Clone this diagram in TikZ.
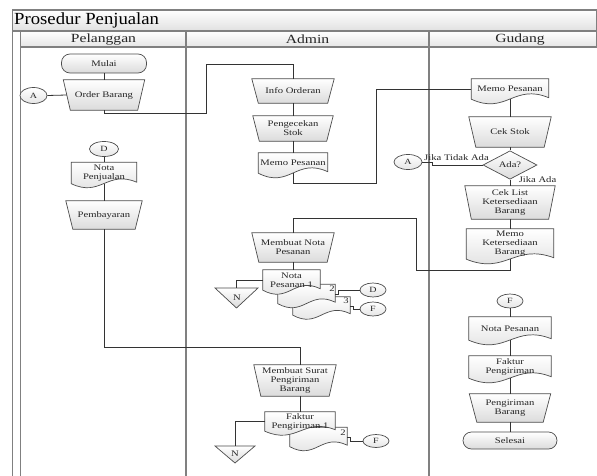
\documentclass[tikz,border=0pt]{standalone}
\usepackage{fontspec}
\setmainfont{Liberation Serif}
\newfontfamily\widefont{Liberation Serif}[FakeStretch=1.25]
\newfontfamily\titlefont{Liberation Serif}[FakeStretch=1.1]
\usetikzlibrary{shapes.geometric,calc}
\pgfdeclarelayer{back}
\pgfdeclarelayer{bg}
\pgfsetlayers{back,bg,main}
\tikzset{
  txt/.style={inner sep=0pt, align=center, font=\widefont\fontsize{8.5}{9}\selectfont, text=black!85},
  shp/.style={draw=black!70, line width=0.7pt, top color=white, bottom color=black!14},
  conn/.style={ellipse, draw=black!70, line width=0.7pt, top color=white, bottom color=black!10, inner sep=0pt, font=\widefont\fontsize{8}{9}\selectfont, text=black!85},
  term/.style={rectangle, rounded corners=8.5pt, draw=black!70, line width=0.7pt, top color=white, bottom color=black!14, inner sep=0pt, font=\widefont\fontsize{8.5}{9}\selectfont, text=black!85},
  dec/.style={diamond, draw=black!70, line width=0.7pt, top color=white, bottom color=black!14, inner sep=0pt, font=\widefont\fontsize{8.5}{9}\selectfont, text=black!85},
  cn/.style={draw=black!80, line width=0.8pt},
  frame/.style={draw=black!50, line width=1.1pt},
  hdr/.style={inner sep=0pt, font=\widefont\fontsize{12.5}{13}\selectfont, text=black!85}
}
\newcommand\trapnode[7]{%
  \node[txt, minimum width=#4pt, minimum height=#5pt] (#1) at (#2,#3) {#7};
  \begin{pgfonlayer}{bg}
    \path[shp] (#1.north west) -- (#1.north east) -- ([xshift=-#6pt]#1.south east) -- ([xshift=#6pt]#1.south west) -- cycle;
  \end{pgfonlayer}}
\newcommand\docnode[7]{%
  \node[txt, minimum width=#4pt, minimum height=#5pt] (#1) at (#2,#3) {#7};
  \begin{pgfonlayer}{bg}
    \path[shp] (#1.south west) -- (#1.north west) -- (#1.north east) -- ([yshift=1.5pt]#1.south east)
      .. controls ($(#1.south east)!0.45!(#1.south west)+(0,-#6)$) and ($(#1.south west)!0.45!(#1.south east)+(0,#6)$) .. (#1.south west) -- cycle;
  \end{pgfonlayer}}
\begin{document}
\begin{tikzpicture}[x=1pt,y=-1pt]
\useasboundingbox (0,0) rectangle (597,476);
\begin{pgfonlayer}{back}
  \fill[white] (0,0) rectangle (597,476);
  \path[frame, top color=white, bottom color=black!12] (12.5,10) rectangle (597,31);
  \path[frame, top color=white, bottom color=black!10] (20.5,31) rectangle (597,47);
  \draw[frame] (12.5,10) -- (12.5,476);
  \draw[frame] (20.5,31) -- (20.5,476);
  \draw[frame] (186,31) -- (186,476);
  \draw[frame] (429,31) -- (429,476);
\end{pgfonlayer}
\node[anchor=west, inner sep=0pt, font=\titlefont\fontsize{17}{18}\selectfont] (title) at (14,20.5) {Prosedur Penjualan};
\node[hdr] (h1) at (103.5,39.5) {Pelanggan};
\node[hdr] (h2) at (307.5,39.5) {Admin};
\node[hdr] (h3) at (520,39.5) {Gudang};

% Pelanggan
\node[term, minimum width=85pt, minimum height=19pt] (mulai) at (104,63.5) {Mulai};
\trapnode{order}{104}{95}{81}{30}{7}{Order Barang}
\node[conn, minimum width=27pt, minimum height=16pt] (A1) at (33.5,95.5) {A};
\node[conn, minimum width=29pt, minimum height=15pt] (D1) at (104,149) {D};
\docnode{notapj}{104}{173}{65}{21}{14}{Nota\\Penjualan}
\trapnode{bayar}{104}{215}{76}{28}{7}{Pembayaran}

% Admin
\trapnode{info}{293}{91}{82}{24}{6.5}{Info Orderan}
\trapnode{cek1}{293}{128.5}{80}{25}{6.5}{Pengecekan\\Stok}
\docnode{memo1}{293}{163}{69}{20}{16}{Memo Pesanan}
\node[conn, minimum width=28pt, minimum height=15pt] (A2) at (408,162) {A};
\trapnode{buatnota}{293}{247.5}{82}{29}{7}{Membuat Nota\\Pesanan}
\docnode{np3}{321.5}{306}{57}{18}{14}{}
\docnode{np2}{306.5}{294}{57}{19}{14}{}
\docnode{np1}{291.5}{280}{57}{20}{14}{Nota\\Pesanan 1}
\node[txt] (l2) at (332,289) {2};
\node[txt] (l3) at (346,301) {3};
\node[conn, minimum width=26pt, minimum height=14pt] (D2) at (373,290) {D};
\node[conn, minimum width=26pt, minimum height=14pt] (F2) at (373,309) {F};
\begin{pgfonlayer}{bg}
  \path[shp] (215,288) -- (258,288) -- (236.5,308) -- cycle;
  \path[shp] (215,446) -- (255,446) -- (235,463) -- cycle;
\end{pgfonlayer}
\node[txt] (N1) at (237,298) {N};
\coordinate (N1t) at (236.5,288);
\trapnode{buatsurat}{295}{380.5}{82}{31}{7}{Membuat Surat\\Pengiriman\\Barang}
\docnode{fp2}{318.5}{437}{57}{19}{14}{}
\docnode{fp1}{300}{421.5}{70}{19}{14}{Faktur\\Pengiriman 1}
\node[txt] (l4) at (343,433) {2};
\node[conn, minimum width=26pt, minimum height=13pt] (F3) at (376,441) {F};
\node[txt] (N2) at (235,454) {N};
\coordinate (N2t) at (235,446);

% Gudang
\docnode{memo2}{510}{89}{77}{20}{16}{Memo Pesanan}
\trapnode{cek2}{510}{132}{82}{30}{7}{Cek Stok}
\node[dec, minimum width=54pt, minimum height=24pt] (ada) at (510,165) {Ada?};
\trapnode{ceklist}{510}{202.5}{90}{33}{6.5}{Cek List\\Ketersediaan\\Barang}
\docnode{memo3}{510}{244}{87}{30}{16}{Memo\\Ketersediaan\\Barang}
\node[conn, minimum width=26pt, minimum height=14pt] (F1) at (510,301) {F};
\docnode{notap}{510}{328.5}{82}{23}{16}{Nota Pesanan}
\docnode{faktur}{510}{367}{82}{22}{16}{Faktur\\Pengiriman}
\trapnode{kirim}{510}{408}{81}{28}{7.5}{Pengiriman\\Barang}
\node[term, minimum width=94pt, minimum height=17pt] (selesai) at (510,440.5) {Selesai};
\node[txt] (lt) at (456.5,158) {Jika Tidak Ada};
\node[txt] (la) at (537.5,180) {Jika Ada};

% connectors
\coordinate (c1) at (206,113);
\coordinate (c2) at (206,64);
\coordinate (c3) at (293,218);
\coordinate (c4) at (416,270);
\coordinate (c5) at (300,347);
\draw[cn] (mulai.south) -- (order.north);
\draw[cn] (A1.east) -- ([xshift=3.5pt]order.west);
\draw[cn] (order.south) |- (c1) -- (c2) -| (info.north);
\draw[cn] (D1.south) -- (notapj.north);
\draw[cn] (notapj.south) -- (bayar.north);
\draw[cn] (bayar.south) |- (c5) -- (c5 |- buatsurat.north);
\draw[cn] (info.south) -- (cek1.north);
\draw[cn] (cek1.south) -- (memo1.north);
\draw[cn] (memo1.south) |- (376,183) |- (memo2.west);
\draw[cn] (memo2.south) -- (cek2.north);
\draw[cn] (cek2.south) -- (ada.north);
\draw[cn] (ada.south) -- (ceklist.north);
\draw[cn] (ceklist.south) -- (memo3.north);
\draw[cn] (ada.west) -- ++(-50,0) |- (A2.east);
\draw[cn] (memo3.south) |- (c4) |- (c3) -- (buatnota.north);
\draw[cn] (buatnota.south) -- (buatnota.south |- np1.north);
\draw[cn] (np1.west) -| (N1t);
\draw[cn] (np2.east) -- ++(3,0) |- (D2.west);
\draw[cn] (np3.east) -- ++(3,0) |- (F2.west);
\draw[cn] (c5 |- buatsurat.south) -- (c5 |- fp1.north);
\draw[cn] (fp1.west) -| (N2t);
\draw[cn] (fp2.east) -- ++(3,0) |- (F3.west);
\draw[cn] (F1.south) -- (notap.north);
\draw[cn] (notap.south) -- (faktur.north);
\draw[cn] (faktur.south) -- (kirim.north);
\draw[cn] (kirim.south) -- (selesai.north);
\end{tikzpicture}
\end{document}
